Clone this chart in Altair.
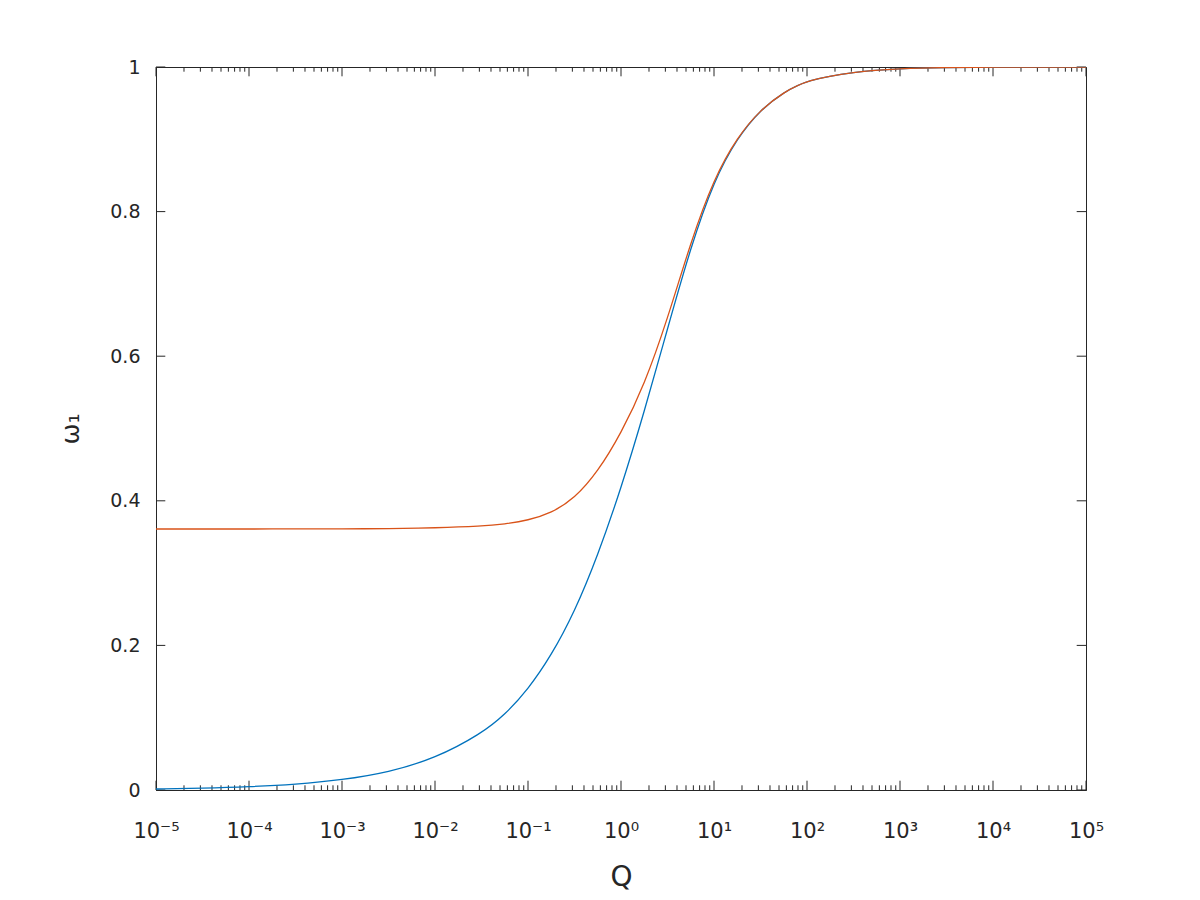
import altair as alt
import pandas as pd

# Q values (log-spaced positions where the curves were read)
q_values = [1e-5, 3.16e-5, 1e-4, 3.16e-4, 1e-3, 3.16e-3, 1e-2, 3.16e-2, 5.62e-2, 1e-1,
            1.78e-1, 3.16e-1, 5.62e-1, 1.0, 1.78, 3.16, 5.62, 10.0, 17.8, 31.6,
            56.2, 100.0, 316.0, 1000.0, 3160.0, 1e4, 1e5]
omega_blue = [0.0014, 0.0025, 0.0044, 0.0078, 0.0139, 0.0245, 0.0435, 0.078, 0.104, 0.139,
              0.186, 0.246, 0.324, 0.417, 0.523, 0.638, 0.751, 0.843, 0.902, 0.941,
              0.965, 0.982, 0.9935, 0.998, 0.9994, 0.9998, 1.0]
omega_orange = [0.361, 0.361, 0.361, 0.3611, 0.3612, 0.3615, 0.3625, 0.3648, 0.3678, 0.3730,
                0.383, 0.403, 0.440, 0.493, 0.560, 0.651, 0.758, 0.846, 0.903, 0.941,
                0.965, 0.982, 0.9935, 0.998, 0.9994, 0.9998, 1.0]

major_x = [1e-5, 1e-4, 1e-3, 1e-2, 1e-1, 1e0, 1e1, 1e2, 1e3, 1e4, 1e5]
minor_mult = [2, 3, 4, 5, 6, 7, 8, 9]
y_ticks = [0, 0.2, 0.4, 0.6, 0.8, 1.0]

W, H = 930, 723
AX = "#262626"
FONT = "DejaVu Sans"

rows = []
for q, b, o in zip(q_values, omega_blue, omega_orange):
    rows.append({"Q": q, "w": b, "s": "a"})
    rows.append({"Q": q, "w": o, "s": "b"})
df = pd.DataFrame(rows)

minor_x = [m * d for d in major_x[:-1] for m in minor_mult]
df_major = pd.DataFrame({"Q": major_x})
df_minor = pd.DataFrame({"Q": minor_x})
df_y = pd.DataFrame({"w": y_ticks})

sup_expr = ("'10' + replace(replace(replace(replace(replace(replace(replace("
            "toString(round(log(datum.value)/LN10)), '-', '⁻'), '0', '⁰'), '1', '¹'), "
            "'2', '²'), '3', '³'), '4', '⁴'), '5', '⁵')")

xscale = alt.Scale(type="log", domain=[1e-5, 1e5], nice=False)
yscale = alt.Scale(domain=[0, 1], nice=False)

lines = alt.Chart(df).mark_line(strokeWidth=1.3, interpolate="basis", clip=True).encode(
    x=alt.X("Q:Q", scale=xscale, title="Q",
            axis=alt.Axis(values=major_x, labelExpr=sup_expr, ticks=False, grid=False,
                          domainColor=AX, labelColor=AX, labelFont=FONT, labelFontSize=21,
                          labelPadding=30, titleFont=FONT, titleFontSize=28,
                          titleFontWeight="normal", titleColor=AX, titlePadding=22,
                          labelFlush=False)),
    y=alt.Y("w:Q", scale=yscale, title="ω₁",
            axis=alt.Axis(values=y_ticks, format=".1~f", ticks=False, grid=False,
                          domainColor=AX, labelColor=AX, labelFont=FONT, labelFontSize=19,
                          labelPadding=16, titleFont=FONT, titleFontSize=25,
                          titleFontWeight="normal", titleColor=AX, titlePadding=26,
                          labelFlush=False)),
    color=alt.Color("s:N", scale=alt.Scale(domain=["a", "b"], range=["#0072BD", "#D95319"]),
                    legend=None),
    order=alt.Order("s:N"),
)

TL = 9.3
TM = 4.7
xb_major = alt.Chart(df_major).mark_rule(color=AX, strokeWidth=1).encode(
    x=alt.X("Q:Q", scale=xscale), y=alt.value(H), y2=alt.value(H - TL))
xt_major = alt.Chart(df_major).mark_rule(color=AX, strokeWidth=1).encode(
    x=alt.X("Q:Q", scale=xscale), y=alt.value(0), y2=alt.value(TL))
xb_minor = alt.Chart(df_minor).mark_rule(color=AX, strokeWidth=1).encode(
    x=alt.X("Q:Q", scale=xscale), y=alt.value(H), y2=alt.value(H - TM))
xt_minor = alt.Chart(df_minor).mark_rule(color=AX, strokeWidth=1).encode(
    x=alt.X("Q:Q", scale=xscale), y=alt.value(0), y2=alt.value(TM))
yl = alt.Chart(df_y).mark_rule(color=AX, strokeWidth=1).encode(
    y=alt.Y("w:Q", scale=yscale), x=alt.value(0), x2=alt.value(TL))
yr = alt.Chart(df_y).mark_rule(color=AX, strokeWidth=1).encode(
    y=alt.Y("w:Q", scale=yscale), x=alt.value(W), x2=alt.value(W - TL))

chart = alt.layer(xb_major, xt_major, xb_minor, xt_minor, yl, yr, lines).properties(
    width=W, height=H,
    autosize=alt.AutoSizeParams(type="none"),
    padding={"left": 148, "top": 59, "right": 106, "bottom": 110},
    background="white",
).configure_view(stroke=AX, strokeWidth=1)

chart.save("out.html", embed_options={"renderer": "svg", "actions": False})
